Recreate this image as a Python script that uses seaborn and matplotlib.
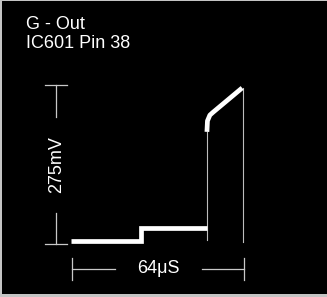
import matplotlib
matplotlib.use("Agg")
import matplotlib.pyplot as plt
import seaborn as sns

# ---- data (time in microseconds, level in millivolts) ----
title_lines = ["G - Out", "IC601 Pin 38"]
v_scale_mv = 275
t_scale_us = 64
v_label = "275mV"
t_label = "64\u03bcS"

step_t = [-0.4, 25.7, 25.7, 50.2]
step_v = [6, 6, 27.7, 27.7]

ramp_t = [50.2, 50.4, 51.3, 52.5, 63.3]
ramp_v = [194, 213, 223, 228, 270]

edge1_t = [50.2, 50.2]
edge1_v = [7, 194]
edge2_t = [63.6, 63.6]
edge2_v = [270, 3.5]

# ---- figure ----
W, H, DPI = 327, 297, 100
fig = plt.figure(figsize=(W / DPI, H / DPI), dpi=DPI, facecolor="#c4c4c4")
ax = fig.add_axes([2 / W, 3 / H, 325 / W, 293 / H])
ax.set_facecolor("black")
ax.set_xlim(-26.05, 94.88)
ax.set_ylim(-86.5, 420.4)
ax.set_axis_off()
ax.add_patch(plt.Rectangle((0, 0), 1, 1, transform=ax.transAxes, color="black", zorder=0))

thin = dict(color="#bdbdbd", linewidth=0.8)
thick = dict(color="white", linewidth=3.4, solid_joinstyle="miter", solid_capstyle="butt")
ramp_style = dict(color="white", linewidth=3.4, solid_joinstyle="round", solid_capstyle="butt")

sns.lineplot(x=edge1_t, y=edge1_v, ax=ax, sort=False, estimator=None, **thin)
sns.lineplot(x=edge2_t, y=edge2_v, ax=ax, sort=False, estimator=None, **thin)
sns.lineplot(x=step_t, y=step_v, ax=ax, sort=False, estimator=None, **thick)
sns.lineplot(x=ramp_t, y=ramp_v, ax=ax, sort=False, estimator=None, **ramp_style)

# ---- scale bars ----
bar_c = dict(color="#c8c8c8", linewidth=0.9)
vx = -6.0
cap_w = 4.2
v_gap = (53.6, 220)
ax.plot([vx - cap_w, vx + cap_w], [v_scale_mv, v_scale_mv], **bar_c)
ax.plot([vx - cap_w, vx + cap_w], [0, 0], **bar_c)
ax.plot([vx, vx], [v_gap[1], v_scale_mv], **bar_c)
ax.plot([vx, vx], [0, v_gap[0]], **bar_c)

ty = -43
cap_h = 19
t_gap = (16, 48.4)
ax.plot([0, 0], [ty - cap_h, ty + cap_h], **bar_c)
ax.plot([t_scale_us, t_scale_us], [ty - cap_h, ty + cap_h], **bar_c)
ax.plot([0, t_gap[0]], [ty, ty], **bar_c)
ax.plot([t_gap[1], t_scale_us], [ty, ty], **bar_c)

font = ["Liberation Sans", "DejaVu Sans"]
fs = 13
ax.text(vx + 0.3, (v_gap[0] + v_gap[1]) / 2, v_label, rotation=90, ha="center", va="center",
        color="white", fontsize=fs, family=font)
ax.text((t_gap[0] + t_gap[1]) / 2, ty - 7, t_label, ha="center", va="baseline",
        color="white", fontsize=fs, family=font)

fig.text(26 / W, 1 - 29 / H, title_lines[0], ha="left", va="baseline", color="white",
         fontsize=fs, family=font)
fig.text(26 / W, 1 - 48 / H, title_lines[1], ha="left", va="baseline", color="white",
         fontsize=fs, family=font)

fig.savefig("out.png", dpi=DPI, facecolor=fig.get_facecolor())
